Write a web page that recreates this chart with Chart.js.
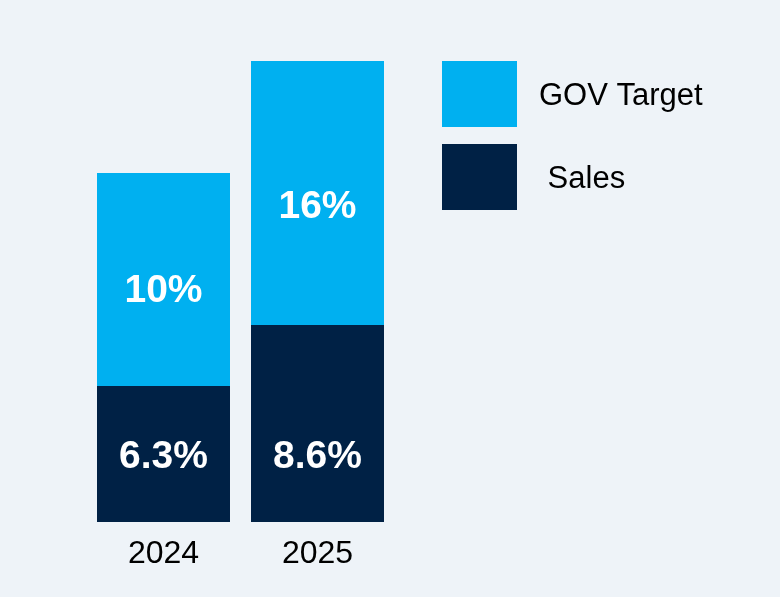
<!DOCTYPE html>
<html>
<head>
<meta charset="utf-8">
<script src="https://cdn.jsdelivr.net/npm/chart.js@4"></script>
<style>
  html, body { margin: 0; padding: 0; background: #eef3f8; }
  #wrap { position: relative; width: 780px; height: 597px; }
</style>
</head>
<body>
<div id="wrap"><canvas id="goalChart"></canvas></div>
<script>
// values
const years = ["2024", "2025"];
const salesHeight = [136, 197];   // relative segment heights as drawn
const targetHeight = [213, 264];
const salesLabels = ["6.3%", "8.6%"];
const targetLabels = ["10%", "16%"];

const navy = "#002145";
const sky = "#00b0f0";
const fontFamily = "'Liberation Sans', Arial, sans-serif";

// labels written inside each segment
const segmentLabels = {
    id: 'segmentLabels',
    afterDatasetsDraw(chart) {
        const ctx = chart.ctx;
        ctx.save();
        ctx.fillStyle = "#ffffff";
        ctx.font = "bold 39px " + fontFamily;
        ctx.textAlign = "center";
        ctx.textBaseline = "middle";
        chart.data.datasets.forEach(function (ds, i) {
            const meta = chart.getDatasetMeta(i);
            meta.data.forEach(function (bar, j) {
                let y;
                if (i === 0) {
                    y = bar.base - 65;
                } else {
                    y = bar.base - 0.447 * (bar.base - bar.y);
                }
                ctx.fillText(ds.texts[j], bar.x, y);
            });
        });
        ctx.restore();
    }
};

// legend boxes on the right, top item first
const sideLegend = {
    id: 'sideLegend',
    afterDraw(chart) {
        const ctx = chart.ctx;
        const items = chart.data.datasets.slice().reverse();
        ctx.save();
        ctx.font = "31px " + fontFamily;
        ctx.textAlign = "left";
        ctx.textBaseline = "middle";
        items.forEach(function (ds, k) {
            const top = 61 + k * 83;
            ctx.fillStyle = ds.backgroundColor;
            ctx.fillRect(442, top, 75, 66);
            ctx.fillStyle = "#000000";
            ctx.fillText(ds.label, 539, top + 35);
        });
        ctx.restore();
    }
};

const ctx1 = document.getElementById("goalChart");

const goalChart = new Chart(ctx1, {
    type: 'bar',
    data: {
        labels: years,
        datasets: [
            {
                label: " Sales",
                data: salesHeight,
                texts: salesLabels,
                backgroundColor: navy,
                borderWidth: 0
            },
            {
                label: "GOV Target",
                data: targetHeight,
                texts: targetLabels,
                backgroundColor: sky,
                borderWidth: 0
            }
        ]
    },
    options: {
        responsive: true,
        maintainAspectRatio: false,
        animation: false,
        categoryPercentage: 1,
        barPercentage: 0.8636,
        layout: {
            padding: { left: 86.5, right: 385.5, top: 61, bottom: 25 }
        },
        plugins: {
            legend: { display: false },
            tooltip: { enabled: false }
        },
        scales: {
            x: {
                stacked: true,
                grid: { display: false, drawTicks: false },
                border: { display: false },
                ticks: {
                    color: "#000000",
                    padding: 13,
                    font: { family: fontFamily, size: 32 }
                },
                afterFit(scale) { scale.height = 50; }
            },
            y: {
                stacked: true,
                display: false,
                min: 0,
                max: 461
            }
        }
    },
    plugins: [segmentLabels, sideLegend]
});
</script>
</body>
</html>
